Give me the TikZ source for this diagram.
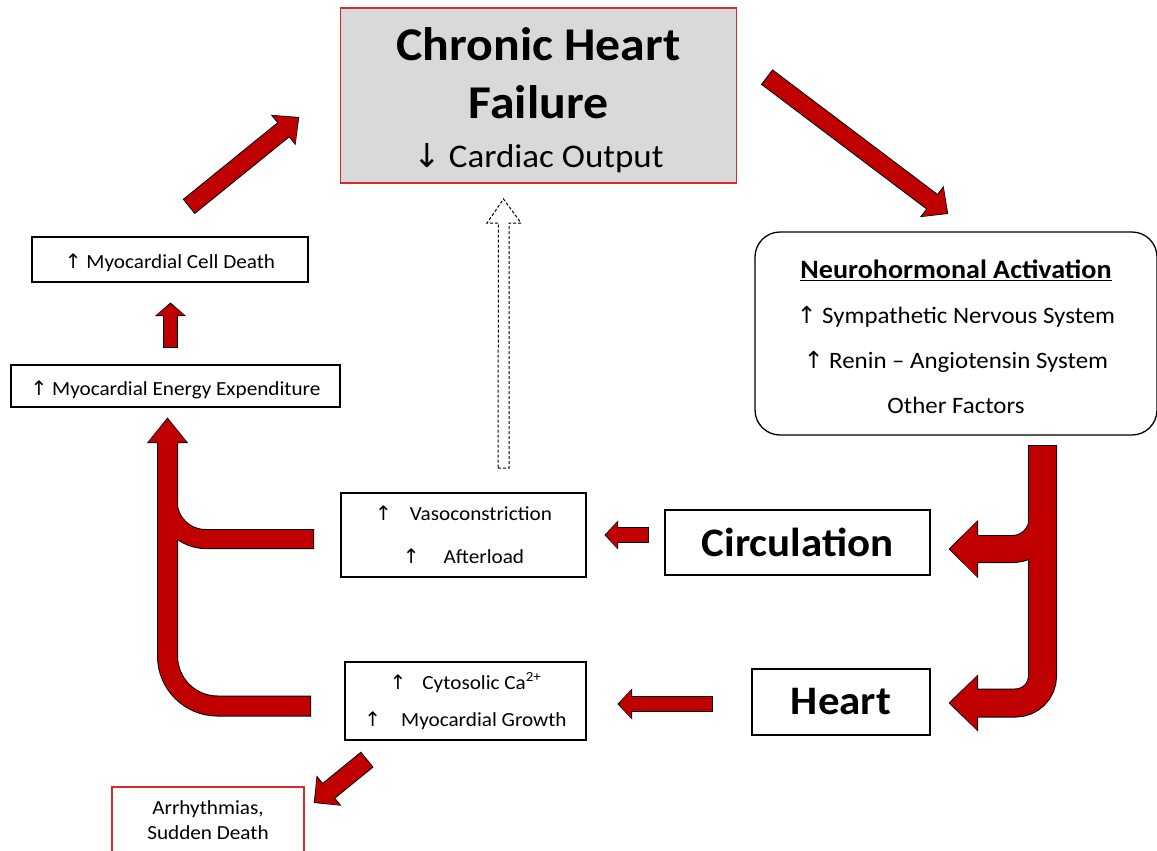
\documentclass[tikz,border=0pt]{standalone}
\usepackage{fontspec}
\setmainfont{Carlito}[FakeStretch=1.06]
\newfontfamily\arrowfont{DejaVu Sans}
\usetikzlibrary{arrows.meta}

\definecolor{arrowred}{HTML}{C00000}
\definecolor{boxred}{HTML}{D42A2A}
\definecolor{boxgray}{HTML}{D9D9D9}

\newcommand{\uparr}{{\arrowfont\char"2191}}
\newcommand{\downarr}{{\arrowfont\char"2193}}

% block arrows are drawn twice: black outline layer, then red body layer
\tikzset{
    block/.code args={#1/#2/#3}{%
        \pgfmathsetmacro\shaftw{#1+\layerw}%
        \pgfmathsetmacro\headw{#2+1.6*\layerw}%
        \pgfmathsetmacro\headl{#3+1.3*\layerw}%
        \pgfmathsetmacro\tipext{-0.75*\layerw}%
        \pgfmathsetmacro\tailext{-0.5*\layerw}%
        \tikzset{draw=\layercol, line width=\shaftw pt,
            -{Triangle[width=\headw pt, length=\headl pt, line width=0pt]},
            shorten >=\tipext pt, shorten <=\tailext pt}%
    }
}

\begin{document}
\begin{tikzpicture}[x=1pt, y=-1pt]
    \tikzstyle{box}=[draw=black, line width=1.3pt, fill=white, inner sep=0pt, align=center, font=\fontsize{20}{44}\selectfont]
    \tikzstyle{title box}=[box, draw=boxred, line width=1.6pt, fill=boxgray, font=\fontsize{47}{58}\selectfont]
    \tikzstyle{big box}=[box, font=\fontsize{40.5}{48}\selectfont\bfseries]
    \tikzstyle{hollow arrow}=[draw=black, line width=1pt, dash pattern=on 3pt off 2pt, fill=white]

    \useasboundingbox (0,0) rectangle (1157,851);

    % Draw the boxes
    \node[title box, minimum width=396pt, minimum height=175pt] (chf) at (538.5,95.5)
        {\rule{0pt}{43pt}\textbf{Chronic Heart}\\\textbf{Failure}\\[-9pt]{\fontsize{33}{40}\selectfont\downarr\ Cardiac Output}};
    \node[box, rounded corners=25pt, minimum width=402pt, minimum height=203pt, font=\fontsize{23.5}{45}\selectfont] (neuro) at (956,333.5)
        {{\fontsize{26.5}{45}\selectfont\rule{0pt}{25pt}\textbf{\underline{Neurohormonal Activation}}}\\\uparr\ Sympathetic Nervous System\\\uparr\ Renin – Angiotensin System\\Other Factors};
    \node[box, minimum width=276pt, minimum height=45pt] (death) at (170,259.5) {\rule{0pt}{22pt}\uparr\ Myocardial Cell Death};
    \node[box, minimum width=329pt, minimum height=42pt] (energy) at (175.5,386) {\rule{0pt}{22pt}\uparr\ Myocardial Energy Expenditure};
    \node[box, minimum width=245pt, minimum height=84pt, font=\fontsize{20}{43}\selectfont] (vaso) at (463.5,535)
        {\uparr\hspace{18pt}Vasoconstriction\\\uparr\hspace{24pt}Afterload};
    \node[big box, minimum width=265pt, minimum height=65pt] (circ) at (797.5,542.5) {Circulation};
    \node[box, minimum width=241pt, minimum height=78pt, font=\fontsize{20}{37}\selectfont] (cyto) at (465.5,701)
        {\uparr\hspace{16pt}Cytosolic Ca\textsuperscript{2+}\\\uparr\hspace{20pt}Myocardial Growth};
    \node[big box, minimum width=178pt, minimum height=66pt] (heart) at (841,702) {Heart};
    \node[box, draw=boxred, minimum width=192pt, minimum height=66pt, font=\fontsize{20}{25}\selectfont] (arrh) at (208,820)
        {Arrhythmias,\\Sudden Death};

    % Arrow end points
    \foreach \name/\x/\y in {death-up/189.5/206, chf-in/298/118,
                             chf-out/767.5/77.5, neuro-in/947/213,
                             energy-up/170.5/347, death-in/170.5/304,
                             circ-out/648/535, vaso-in/606/535,
                             heart-out/712/704, cyto-in/619/704,
                             cyto-out/366.5/760, arrh-in/315/802,
                             neuro-out/1042.5/446, heart-in/950/703,
                             trunk-split/1042.5/480, circ-in/950/549,
                             cyto-back/310/706, energy-in/167.5/419,
                             vaso-back/313/539, trunk-join/167.5/495,
                             dash-tail/503.5/468, dash-tip/503.5/199}
        \coordinate (\name) at (\x,\y);

    % Red block arrows, outline first and body on top
    \foreach \layerw/\layercol in {2/black, 0/arrowred} {
        \draw[block=17/36/18] (death-up) -- (chf-in);
        \draw[block=17/36/18] (chf-out) -- (neuro-in);
        \draw[block=13/28/11] (energy-up) -- (death-in);
        \draw[block=14/26/11] (circ-out) -- (vaso-in);
        \draw[block=14/28/12] (heart-out) -- (cyto-in);
        \draw[block=18/36/17] (cyto-out) -- (arrh-in);
        % right trunk and its branch
        \draw[block=27/54/27, rounded corners=27pt] (neuro-out) |- (heart-in);
        \draw[block=26/55/27, rounded corners=30pt] (trunk-split) |- (circ-in);
        % left trunk and its branch
        \draw[block=19/38/23, rounded corners=50pt] (cyto-back) -| (energy-in);
        \draw[block=18/38/23, -, rounded corners=38pt] (vaso-back) -| (trunk-join);
    }

    % Dashed hollow arrow up to the title box
    \draw[hollow arrow] (dash-tail) ++(-5.5,0) -- ++(11,0) -- ++(0,-245) -- ++(12,0)
        -- (dash-tip) -- ++(-16.5,24) -- ++(11.5,0) -- cycle;
\end{tikzpicture}
\end{document}
